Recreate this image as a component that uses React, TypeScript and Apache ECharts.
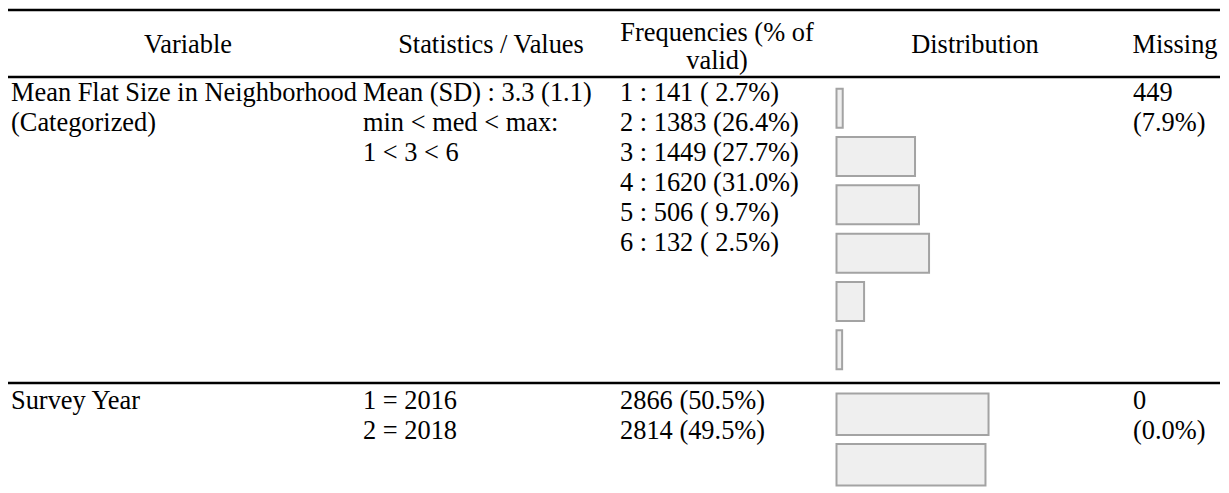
import React, { useEffect, useRef } from 'react';
import * as echarts from 'echarts';

// ---- data ----
const headerVariable = 'Variable';
const headerStats = 'Statistics / Values';
const headerFreq = ['Frequencies (% of', 'valid)'];
const headerDist = 'Distribution';
const headerMissing = 'Missing';

const var1Name = ['Mean Flat Size in Neighborhood', '(Categorized)'];
const var1Stats = ['Mean (SD) : 3.3 (1.1)', 'min < med < max:', '1 < 3 < 6'];
const var1Levels = ['1', '2', '3', '4', '5', '6'];
const var1Counts = [141, 1383, 1449, 1620, 506, 132];
const var1Pct = [2.7, 26.4, 27.7, 31.0, 9.7, 2.5];
const var1Missing = ['449', '(7.9%)'];

const var2Name = ['Survey Year'];
const var2Labels = ['1 = 2016', '2 = 2018'];
const var2Counts = [2866, 2814];
const var2Pct = [50.5, 49.5];
const var2Missing = ['0', '(0.0%)'];

const FONT = '26.4px "Liberation Serif", "Times New Roman", serif';
const LINE_H = 30;

function txt(text: string, x: number, y: number, align: string = 'left') {
  return {
    type: 'text',
    x,
    y,
    silent: true,
    style: {
      text,
      font: FONT,
      fill: '#000',
      align,
      textAlign: align,
      verticalAlign: 'middle',
      textVerticalAlign: 'middle',
    },
  };
}

function hline(y: number) {
  return {
    type: 'line',
    silent: true,
    shape: { x1: 8, y1: y, x2: 1220, y2: y },
    style: { stroke: '#000', lineWidth: 2.5 },
  };
}

const fmtPct = (p: number) => p.toFixed(1).padStart(4, ' ');

export default function App() {
  const ref = useRef<HTMLDivElement>(null);
  useEffect(() => {
    if (!ref.current) return;
    const chart = echarts.init(ref.current, undefined, { renderer: 'svg' });

    const COL_VAR = 11;
    const COL_STATS = 363;
    const COL_FREQ = 620;
    const COL_MISS = 1133;
    const S1_Y = 92;
    const S2_Y = 400;

    const g: any[] = [];
    g.push(hline(10), hline(77), hline(383));
    // header
    g.push(txt(headerVariable, 188, 44, 'center'));
    g.push(txt(headerStats, 491, 44, 'center'));
    headerFreq.forEach((t, i) => g.push(txt(t, 717, 32 + i * 28, 'center')));
    g.push(txt(headerDist, 975, 44, 'center'));
    g.push(txt(headerMissing, 1175, 44, 'center'));

    // section 1
    var1Name.forEach((t, i) => g.push(txt(t, COL_VAR, S1_Y + i * LINE_H)));
    var1Stats.forEach((t, i) => g.push(txt(t, COL_STATS, S1_Y + i * LINE_H)));
    var1Levels.forEach((lv, i) =>
      g.push(txt(`${lv} : ${var1Counts[i]} (${fmtPct(var1Pct[i])}%)`, COL_FREQ, S1_Y + i * LINE_H))
    );
    var1Missing.forEach((t, i) => g.push(txt(t, COL_MISS, S1_Y + i * LINE_H)));

    // section 2
    var2Name.forEach((t, i) => g.push(txt(t, COL_VAR, S2_Y + i * LINE_H)));
    var2Labels.forEach((t, i) => g.push(txt(t, COL_STATS, S2_Y + i * LINE_H)));
    var2Counts.forEach((c, i) =>
      g.push(txt(`${c} (${fmtPct(var2Pct[i])}%)`, COL_FREQ, S2_Y + i * LINE_H))
    );
    var2Missing.forEach((t, i) => g.push(txt(t, COL_MISS, S2_Y + i * LINE_H)));

    const barStyle = { color: '#efefef', borderColor: '#a3a3a3', borderWidth: 2 };

    chart.setOption({
      animation: false,
      grid: [
        { left: 835.5, top: 84, width: 305, height: 290 },
        { left: 835.5, top: 389, width: 305, height: 101 },
      ],
      xAxis: [
        { type: 'value', gridIndex: 0, min: 0, max: 100, show: false },
        { type: 'value', gridIndex: 1, min: 0, max: 100, show: false },
      ],
      yAxis: [
        { type: 'category', gridIndex: 0, data: var1Levels, inverse: true, show: false },
        { type: 'category', gridIndex: 1, data: var2Labels, inverse: true, show: false },
      ],
      series: [
        { type: 'bar', xAxisIndex: 0, yAxisIndex: 0, data: var1Pct, barWidth: 41, itemStyle: barStyle, silent: true },
        { type: 'bar', xAxisIndex: 1, yAxisIndex: 1, data: var2Pct, barWidth: 43.5, itemStyle: barStyle, silent: true },
      ],
      graphic: g,
    });
    return () => chart.dispose();
  }, []);
  return (
    <div
      ref={ref}
      style={{ position: 'absolute', left: 0, top: 0, width: 1229, height: 493, background: '#fff' }}
    />
  );
}
